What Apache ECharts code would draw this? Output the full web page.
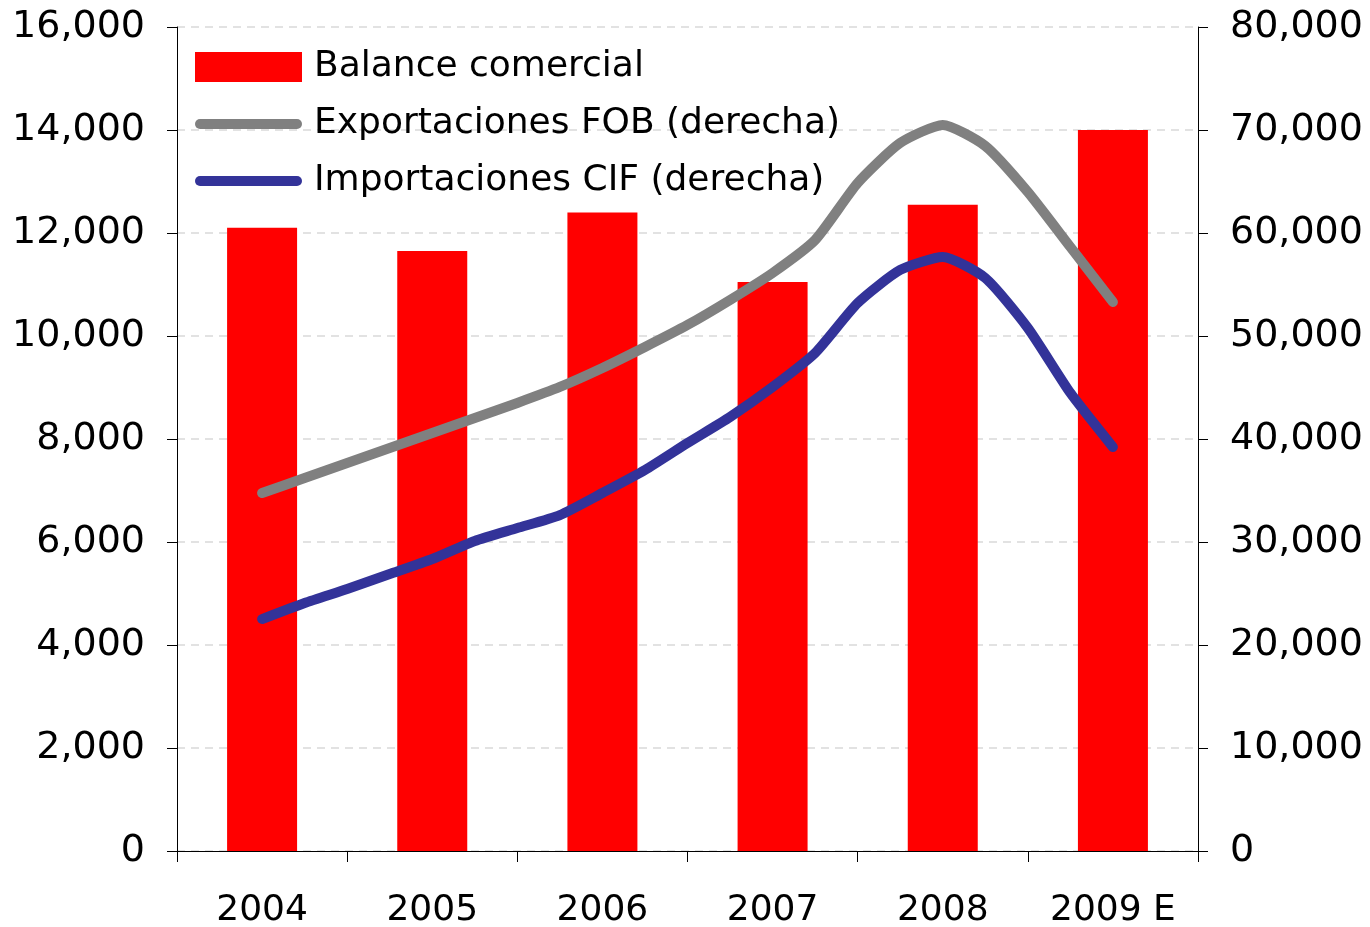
<!DOCTYPE html>
<html>
<head>
<meta charset="utf-8">
<title>Balance comercial</title>
<script src="https://cdn.jsdelivr.net/npm/echarts@6/dist/echarts.min.js"></script>
<style>
html, body { margin: 0; padding: 0; background: #fff; }
#chart { width: 1370px; height: 927px; }
</style>
</head>
<body>
<div id="chart"></div>
<script>
/* datos */
var years = ['2004', '2005', '2006', '2007', '2008', '2009 E'];
var balance = [12100, 11650, 12400, 11050, 12550, 14000];
// trimestral, 2004 -> 2009 (eje derecho)
var exportsFob = [34760, 36210, 37670, 39130, 40580, 42040, 43500, 45050, 46890, 48930,
                  51070, 53500, 56120, 59320, 64850, 68740, 70490, 68450, 63980, 58640, 53300];
var importsCif = [22520, 24080, 25440, 26890, 28350, 30100, 31360, 32620, 34760, 36990,
                  39610, 42140, 45050, 48350, 53200, 56410, 57670, 55630, 50780, 44470, 39220];

var fontName = 'DejaVu Sans';
// icono de linea gruesa con puntas redondas para la leyenda
var lineIcon = 'path://M5,0 H102 A5,5 0 0 1 102,10 H5 A5,5 0 0 1 5,0 Z';

// posicion de cada trimestre sobre el eje oculto (centro de la categoria = i + 0.5)
function toPoints(arr){
	return arr.map(function(v, k){
		return [0.5 + k * 0.25, v];
	});
}

function fmt(v){
	return Number(v).toLocaleString('en-US');
}

var option = {
	backgroundColor: '#fff',
	animation: false,
	grid: {
		left: 177,
		right: 172,
		top: 27,
		bottom: 76,
		containLabel: false,
		outerBoundsMode: 'none'
	},
	legend: {
		orient: 'vertical',
		left: 195,
		top: 47,
		padding: 0,
		itemWidth: 107,
		itemHeight: 30,
		itemGap: 17,
		textStyle: {
			fontFamily: fontName,
			fontSize: 36,
			color: '#000',
			lineHeight: 40,
			padding: [0, 0, 0, 7]
		},
		data: [
			{name: 'Balance comercial', icon: 'rect'},
			{name: 'Exportaciones FOB (derecha)', icon: lineIcon},
			{name: 'Importaciones CIF (derecha)', icon: lineIcon}
		]
	},
	xAxis: [
		{
			type: 'category',
			data: years,
			axisLine: { lineStyle: { color: '#000', width: 1 } },
			axisTick: { show: true, length: 11, lineStyle: { color: '#000' } },
			axisLabel: {
				fontFamily: fontName,
				fontSize: 36,
				color: '#000',
				margin: 42
			}
		},
		{
			type: 'value',
			min: 0,
			max: 6,
			show: false
		}
	],
	yAxis: [
		{
			type: 'value',
			min: 0,
			max: 16000,
			interval: 2000,
			axisLine: { show: true, lineStyle: { color: '#000' } },
			axisTick: { show: true, length: 10, lineStyle: { color: '#000' } },
			axisLabel: {
				fontFamily: fontName,
				fontSize: 38,
				color: '#000',
				margin: 32,
				formatter: fmt
			},
			splitLine: {
				show: true,
				lineStyle: { color: '#d9d9d9', type: [8, 6], width: 1.5 }
			}
		},
		{
			type: 'value',
			min: 0,
			max: 80000,
			interval: 10000,
			position: 'right',
			axisLine: { show: true, lineStyle: { color: '#000' } },
			axisTick: { show: true, length: 10, lineStyle: { color: '#000' } },
			axisLabel: {
				fontFamily: fontName,
				fontSize: 38,
				color: '#000',
				margin: 32,
				formatter: fmt
			},
			splitLine: { show: false }
		}
	],
	series: [
		{
			name: 'Balance comercial',
			type: 'bar',
			xAxisIndex: 0,
			yAxisIndex: 0,
			barWidth: 70,
			itemStyle: { color: '#ff0000' },
			data: balance
		},
		{
			name: 'Exportaciones FOB (derecha)',
			type: 'line',
			xAxisIndex: 1,
			yAxisIndex: 1,
			smooth: 0.2,
			showSymbol: false,
			symbol: 'none',
			itemStyle: { color: '#808080' },
			lineStyle: { color: '#808080', width: 10, cap: 'round', join: 'round' },
			data: toPoints(exportsFob)
		},
		{
			name: 'Importaciones CIF (derecha)',
			type: 'line',
			xAxisIndex: 1,
			yAxisIndex: 1,
			smooth: 0.2,
			showSymbol: false,
			symbol: 'none',
			itemStyle: { color: '#333399' },
			lineStyle: { color: '#333399', width: 10, cap: 'round', join: 'round' },
			data: toPoints(importsCif)
		}
	]
};

var ichart = echarts.init(document.getElementById('chart'), null, {renderer: 'canvas'});
ichart.setOption(option);
</script>
</body>
</html>
